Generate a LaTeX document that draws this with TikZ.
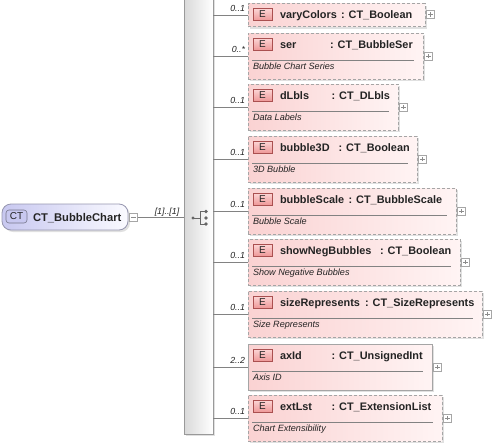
\documentclass[tikz,border=0pt]{standalone}
\usepackage{fontspec}
\setmainfont{Liberation Sans}
\usetikzlibrary{shadows}
\definecolor{elL}{RGB}{250,210,210}
\definecolor{elR}{RGB}{255,244,244}
\definecolor{elB}{RGB}{165,165,165}
\definecolor{bdgT}{RGB}{252,214,214}
\definecolor{bdgB}{RGB}{238,152,152}
\definecolor{bdgD}{RGB}{170,80,80}
\definecolor{ctL}{RGB}{200,200,240}
\definecolor{ctR}{RGB}{250,250,255}
\definecolor{ctB}{RGB}{150,150,175}
\definecolor{txt}{RGB}{35,35,35}
\definecolor{lin}{RGB}{130,130,130}
\tikzset{
 every node/.style={inner sep=0pt, outer sep=0pt, text=txt},
 shad/.style={drop shadow={shadow xshift=2pt, shadow yshift=-2pt, fill=black!12, opacity=1}},
 elbase/.style={rectangle, left color=elL, right color=elR, shad},
 optbox/.style={elbase, draw=elB, dash pattern=on 3pt off 2pt, line width=0.8pt},
 reqbox/.style={elbase, draw=elB, line width=0.8pt},
 badge/.style={rectangle, top color=bdgT, bottom color=bdgB, draw=bdgD, line width=0.6pt, minimum width=19pt, minimum height=12pt, font=\fontsize{10}{11}\selectfont},
 nm/.style={font=\fontsize{10.9}{12}\selectfont\bfseries, anchor=base west},
 dsc/.style={font=\fontsize{9.1}{10}\selectfont\itshape, anchor=base west},
 card/.style={font=\fontsize{8.8}{10}\selectfont\itshape, anchor=base east},
 sepline/.style={draw=lin, line width=0.6pt},
 conn/.style={draw=lin, line width=0.6pt},
 smallbox/.style={rectangle, draw=black!35, fill=white, minimum size=8pt, line width=0.5pt},
 plusbox/.style={smallbox, path picture={\draw[black!45,line width=0.5pt] ([xshift=-2.2pt]path picture bounding box.center) -- ([xshift=2.2pt]path picture bounding box.center) ([yshift=-2.2pt]path picture bounding box.center) -- ([yshift=2.2pt]path picture bounding box.center);}},
 minusbox/.style={smallbox, path picture={\draw[black!45,line width=0.5pt] ([xshift=-2.2pt]path picture bounding box.center) -- ([xshift=2.2pt]path picture bounding box.center);}},
}
% #1 id, #2 cy, #3 right x, #4 name, #5 colon x, #6 type, #7 desc, #8 box style, #9 card
\newcommand\elemtall[9]{%
 \node[#8, minimum width={(#3-248)*1pt}, minimum height=46pt, anchor=west] (#1) at (248,#2) {};
 \node[badge] (#1b) at (262.5,#2-12) {E};
 \node[nm] (#1n) at (280,#2-8) {#4};
 \node[nm] (#1t) at (#5,#2-8) {: #6};
 \draw[sepline] (252,#2+4) -- (#3-9,#2+4);
 \node[dsc] (#1d) at (253,#2+13.5) {#7};
 \node[plusbox] (#1p) at (#3+5.5,#2) {};
 \draw[conn] (seq.east |- #1.west) -- (#1.west);
 \node[card] (#1c) at (245,#2-3.5) {#9};
}
\begin{document}
\begin{tikzpicture}[x=1pt,y=-1pt]
\useasboundingbox (0,0) rectangle (497,447);
% sequence bar
\node[rectangle, left color=black!15, right color=white, draw=black!40, line width=0.6pt, minimum width=29pt, minimum height=440pt, shad] (seq) at (198.5,214) {};
\fill[black!60] (193,218) circle (1.6pt);
\draw[black!60, line width=0.8pt] (193,218) -- (200,218) (200,211.5) -- (200,224) (200,211.5) -- (206,211.5) (200,224) -- (206,224);
\fill[black!60] (206,211.5) circle (1.8pt) (206,218) circle (1.8pt) (206,224) circle (1.8pt);
% root
\node[rectangle, rounded corners=9pt, left color=ctL, right color=ctR, draw=ctB, line width=0.8pt, minimum width=126pt, minimum height=26pt, shad] (ct) at (65,217) {};
\node[rectangle, rounded corners=3pt, fill=ctL, draw=ctB!80!black, line width=0.6pt, minimum width=21pt, minimum height=13pt, font=\fontsize{10}{11}\selectfont] (ctb) at (16.5,216.5) {CT};
\node[nm, font=\fontsize{11.2}{12}\selectfont\bfseries] (ctn) at (33,221) {CT\_BubbleChart};
\node[minusbox] (ctm) at (133.5,217) {};
\draw[conn] (ctm.east) -- (seq.west |- ctm.east);
\node[card, anchor=base] (ctc) at (167,214.5) {[1]..[1]};
% varyColors (no description)
\node[optbox, minimum width=177pt, minimum height=23pt, anchor=west] (e1) at (248,15) {};
\node[badge] (e1b) at (262.5,14.5) {E};
\node[nm] (e1n) at (280,18.5) {varyColors};
\node[nm] (e1t) at (341,18.5) {: CT\_Boolean};
\node[plusbox] (e1p) at (430.5,14.5) {};
\draw[conn] (seq.east |- e1.west) -- (e1.west);
\node[card] (e1c) at (245,11) {0..1};
% others
\elemtall{e2}{56}{423}{ser}{330}{CT\_BubbleSer}{Bubble Chart Series}{optbox}{0..*}
\elemtall{e3}{107}{398}{dLbls}{331.5}{CT\_DLbls}{Data Labels}{optbox}{0..1}
\elemtall{e4}{159}{417}{bubble3D}{338.5}{CT\_Boolean}{3D Bubble}{optbox}{0..1}
\elemtall{e5}{211}{456}{bubbleScale}{348.5}{CT\_BubbleScale}{Bubble Scale}{optbox}{0..1}
\elemtall{e6}{262}{460}{showNegBubbles}{380}{CT\_Boolean}{Show Negative Bubbles}{optbox}{0..1}
\elemtall{e7}{314}{482}{sizeRepresents}{365}{CT\_SizeRepresents}{Size Represents}{optbox}{0..1}
\elemtall{e8}{367}{432}{axId}{331.5}{CT\_UnsignedInt}{Axis ID}{reqbox}{2..2}
\elemtall{e9}{418}{442}{extLst}{331.5}{CT\_ExtensionList}{Chart Extensibility}{optbox}{0..1}
\end{tikzpicture}
\end{document}
